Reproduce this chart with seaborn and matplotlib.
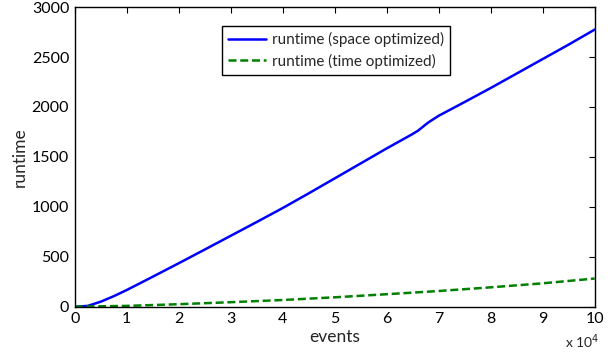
import matplotlib
matplotlib.use("Agg")
import matplotlib.pyplot as plt
import seaborn as sns
import pandas as pd
from matplotlib.ticker import FuncFormatter

# Data (events in raw units)
events_space = [0, 2500, 5000, 7500, 10000, 15000, 20000, 25000, 30000, 35000, 40000,
                45000, 50000, 55000, 60000, 65000, 66000, 68000, 70000, 75000, 80000,
                85000, 90000, 95000, 100000]
runtime_space = [0, 8, 50, 105, 167, 300, 435, 572, 710, 848, 988,
                 1135, 1285, 1435, 1585, 1730, 1762, 1845, 1912, 2050, 2190,
                 2335, 2480, 2625, 2775]
events_time = [0, 10000, 20000, 30000, 40000, 50000, 60000, 70000, 80000, 90000, 100000]
runtime_time = [0, 8, 25, 45, 67, 94, 125, 157, 194, 234, 282]

label_space = "runtime (space optimized)"
label_time = "runtime (time optimized)"
xticks = [0, 10000, 20000, 30000, 40000, 50000, 60000, 70000, 80000, 90000, 100000]
yticks = [0, 500, 1000, 1500, 2000, 2500, 3000]

sns.set_style("white")
plt.rcParams["font.family"] = ["Lato", "DejaVu Sans"]

fig = plt.figure(figsize=(6.16, 3.56), dpi=100)
ax = fig.add_axes([0.1213, 0.1385, 0.8441, 0.8415])

df_s = pd.DataFrame({"events": events_space, "runtime": runtime_space})
df_t = pd.DataFrame({"events": events_time, "runtime": runtime_time})
sns.lineplot(data=df_s, x="events", y="runtime", ax=ax, color=(0, 0, 1),
             linewidth=1.8, label=label_space)
sns.lineplot(data=df_t, x="events", y="runtime", ax=ax, color=(0, 0.5, 0),
             linewidth=1.8, linestyle=(0, (3.2, 1.5)), label=label_time)

ax.set_xlim(0, 100000)
ax.set_ylim(0, 3000)
ax.set_xticks(xticks)
ax.set_yticks(yticks)
ax.xaxis.set_major_formatter(FuncFormatter(lambda v, p: f"{v/1e4:g}"))
ax.tick_params(direction="in", length=4, width=0.8, top=True, right=True,
               labelsize=11.5, colors="black", pad=4)
for s in ax.spines.values():
    s.set_color("black")
    s.set_linewidth(1.0)
    s.set_visible(True)

ax.set_xlabel("events", fontsize=12.5, labelpad=2)
ax.set_ylabel("runtime", fontsize=12.5, labelpad=3)
fig.text(0.918, 0.015, r"x 10$^4$", fontsize=10, ha="left", va="bottom")

leg = ax.legend(loc="upper left", bbox_to_anchor=(0.283, 0.937), borderaxespad=0,
                fancybox=False, edgecolor="black", framealpha=1, fontsize=11,
                handlelength=2.5, handletextpad=0.35, borderpad=0.4, labelspacing=0.42)
leg.get_frame().set_linewidth(1.0)

fig.savefig("out.png", dpi=100)
